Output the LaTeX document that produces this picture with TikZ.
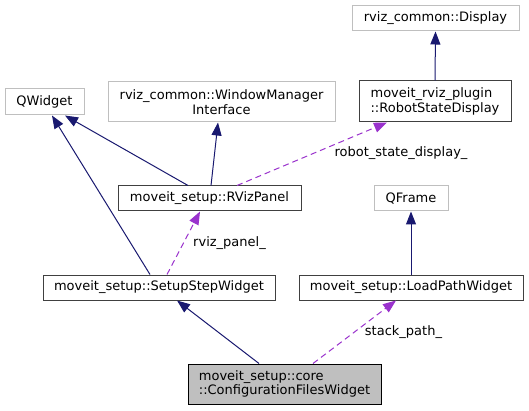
\documentclass[tikz,border=0pt]{standalone}
\usepackage{fontspec}
\setmainfont{DejaVu Sans}
\usetikzlibrary{arrows.meta}
\definecolor{edgeblue}{HTML}{191970}
\definecolor{usepurple}{HTML}{9A32CD}
\definecolor{extgray}{HTML}{BFBFBF}
\definecolor{docgray}{HTML}{404040}
\definecolor{hlfill}{HTML}{BFBFBF}
\tikzset{
  cls/.style={rectangle, inner sep=0pt, line width=1pt, align=center},
  extcls/.style={cls, draw=extgray},
  doccls/.style={cls, draw=docgray},
  hlcls/.style={cls, draw=black, fill=hlfill},
  inh/.style={draw=edgeblue, line width=1pt, -{Triangle[length=13pt,width=10pt]}},
  usage/.style={draw=usepurple, line width=1pt, dash pattern=on 6pt off 4pt, -{Triangle[length=13pt,width=10pt]}},
  elabel/.style={inner sep=0pt, anchor=center}
}
\begin{document}
\begin{tikzpicture}[x=1pt,y=-1pt, font=\fontsize{13}{14.5}\selectfont]
\fill[white] (0,0) rectangle (529,411);
\useasboundingbox (0,0) rectangle (529,411);

\node[extcls, minimum width=167pt, minimum height=25pt] (disp) at (435.5,18.5) {rviz\_common::Display};
\node[doccls, minimum width=152pt, minimum height=41pt, align=left] (rsd) at (435,101.5) {moveit\_rviz\_plugin\\::RobotStateDisplay};
\node[extcls, minimum width=79pt, minimum height=26pt] (qw) at (44.5,102) {QWidget};
\node[extcls, minimum width=227pt, minimum height=40pt] (wmi) at (221.5,102) {rviz\_common::WindowManager\\Interface};
\node[doccls, minimum width=183pt, minimum height=25pt] (rvp) at (209.5,198.5) {moveit\_setup::RVizPanel};
\node[extcls, minimum width=74pt, minimum height=25pt] (qf) at (411,198.5) {QFrame};
\node[doccls, minimum width=232pt, minimum height=25pt] (ssw) at (159,287.5) {moveit\_setup::SetupStepWidget};
\node[doccls, minimum width=224pt, minimum height=25pt] (lpw) at (411,287.5) {moveit\_setup::LoadPathWidget};
\node[hlcls, minimum width=193pt, minimum height=40pt, align=left] (cfw) at (284.5,384) {moveit\_setup::core\\::ConfigurationFilesWidget};

\draw[inh] (rsd.north) -- (disp.south);
\draw[inh] ([xshift=-9pt]ssw.north) -- ([xshift=7.5pt]qw.south);
\draw[inh] ([xshift=-21.5pt]rvp.north) -- ([xshift=20.5pt]qw.south);
\draw[inh] ([xshift=1.5pt]rvp.north) -- ([xshift=-3.5pt]wmi.south);
\draw[usage] ([xshift=27.5pt]rvp.north) -- ([xshift=-48pt]rsd.south);
\draw[usage] ([xshift=8pt]ssw.north) -- ([xshift=-9.5pt]rvp.south);
\draw[inh] (lpw.north) -- (qf.south);
\draw[inh] ([xshift=-25.5pt]cfw.north) -- ([xshift=18pt]ssw.south);
\draw[usage] ([xshift=28.5pt]cfw.north) -- ([xshift=-15pt]lpw.south);

\node[elabel] (lrsd) at (401,153) {robot\_state\_display\_};
\node[elabel] (lrvp) at (229.5,243) {rviz\_panel\_};
\node[elabel] (llpw) at (403.5,332) {stack\_path\_};
\end{tikzpicture}
\end{document}
